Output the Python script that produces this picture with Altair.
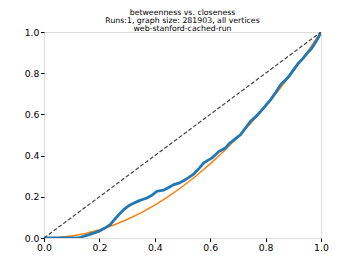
import altair as alt
import pandas as pd

# blue curve (betweenness vs. closeness, measured)
blue_x = [0.0, 0.06, 0.124, 0.16, 0.197, 0.22, 0.239, 0.255, 0.27, 0.288, 0.306, 0.325, 0.342,
          0.358, 0.372, 0.39, 0.408, 0.432, 0.45, 0.469, 0.487, 0.505, 0.523, 0.541, 0.56,
          0.577, 0.593, 0.607, 0.62, 0.632, 0.645, 0.656, 0.668, 0.68, 0.695, 0.71, 0.728,
          0.746, 0.765, 0.783, 0.80, 0.819, 0.838, 0.855, 0.87, 0.885, 0.90, 0.915, 0.935,
          0.952, 0.965, 0.976, 0.99, 1.0]
blue_y = [0.0, 0.0, 0.0, 0.015, 0.032, 0.048, 0.065, 0.09, 0.113, 0.138, 0.157, 0.17, 0.18,
          0.188, 0.194, 0.208, 0.227, 0.232, 0.245, 0.259, 0.266, 0.279, 0.294, 0.311, 0.338,
          0.365, 0.378, 0.389, 0.405, 0.421, 0.43, 0.438, 0.458, 0.47, 0.486, 0.502, 0.535,
          0.567, 0.59, 0.616, 0.643, 0.673, 0.71, 0.746, 0.765, 0.786, 0.815, 0.843, 0.872,
          0.9, 0.918, 0.94, 0.972, 1.0]

# orange reference curve
orange_x = [0.0, 0.05, 0.1, 0.15, 0.2, 0.25, 0.3, 0.35, 0.4, 0.45, 0.5, 0.55, 0.6, 0.65,
            0.7, 0.75, 0.8, 0.85, 0.9, 0.95, 1.0]
orange_y = [0.0, 0.003, 0.01, 0.022, 0.04, 0.062, 0.09, 0.122, 0.16, 0.202, 0.25, 0.302,
            0.36, 0.422, 0.49, 0.562, 0.64, 0.722, 0.81, 0.902, 1.0]

# diagonal
diag_x = [0.0, 1.0]
diag_y = [0.0, 1.0]

ticks = [0.0, 0.2, 0.4, 0.6, 0.8, 1.0]
title_lines = ["betweenness vs. closeness",
               "Runs:1, graph size: 281903, all vertices",
               "web-stanford-cached-run"]

FONT = "DejaVu Sans"

xs = alt.Scale(domain=[0, 1], nice=False, zero=False)
ys = alt.Scale(domain=[0, 1], nice=False, zero=False)
xax = alt.Axis(values=ticks, format=".1f", title=None, grid=False, domain=False,
               tickSize=3.5, tickColor="black", labelPadding=1.5, labelColor="black",
               labelFont=FONT, labelFontSize=9.3, labelFlush=False)
yax = alt.Axis(values=ticks, format=".1f", title=None, grid=False, domain=False,
               tickSize=3.5, tickColor="black", labelPadding=1.5, labelColor="black",
               labelFont=FONT, labelFontSize=9.3, labelFlush=False)

bdf = pd.DataFrame({"x": blue_x, "y": blue_y})
odf = pd.DataFrame({"x": orange_x, "y": orange_y})
ddf = pd.DataFrame({"x": diag_x, "y": diag_y})

orange = alt.Chart(odf).mark_line(color="#ff7f0e", strokeWidth=1.5, clip=True).encode(
    x=alt.X("x:Q", scale=xs, axis=xax), y=alt.Y("y:Q", scale=ys, axis=yax), order="x:Q")
blue = alt.Chart(bdf).mark_line(color="#1f77b4", strokeWidth=2.8, clip=True).encode(
    x=alt.X("x:Q", scale=xs), y=alt.Y("y:Q", scale=ys), order="x:Q")
diag = alt.Chart(ddf).mark_line(color="#444444", strokeWidth=1.2, strokeDash=[4, 2],
                                clip=True).encode(
    x=alt.X("x:Q", scale=xs), y=alt.Y("y:Q", scale=ys))

chart = alt.layer(orange, blue, diag).properties(
    width=277, height=206,
    title=alt.TitleParams(text=title_lines, font=FONT, fontSize=7.8, fontWeight="normal",
                          color="black", lineHeight=8.1, anchor="middle", offset=-4.5),
    autosize=alt.AutoSizeParams(type="none"),
    padding={"left": 36, "top": 24, "right": 28, "bottom": 22},
).configure_view(stroke="black", strokeWidth=1).configure(background="white")

chart.save("out.html", embed_options={"renderer": "svg", "actions": False})
